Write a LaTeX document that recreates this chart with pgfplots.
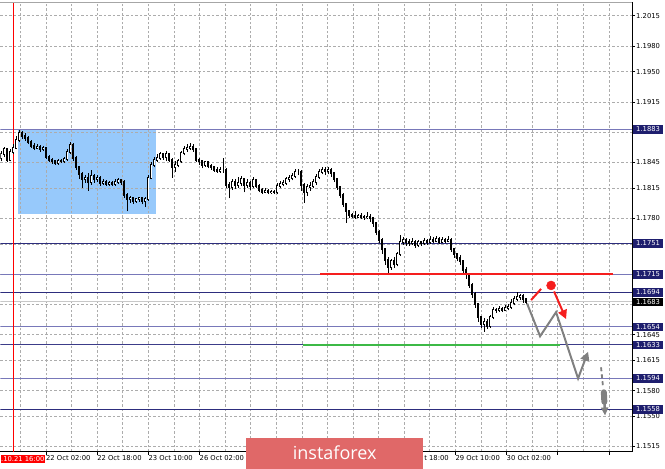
\documentclass[border=0pt]{standalone}
\usepackage{pgfplots}
\pgfplotsset{compat=1.18}
\usepackage{pgfplotstable}
\usepackage{fontspec}
\setmainfont{DejaVu Sans}
\newfontfamily\wmfont{Open Sans}
\usetikzlibrary{arrows.meta}
\definecolor{gridc}{RGB}{172,172,172}
\definecolor{boxnavy}{RGB}{30,30,110}
\definecolor{lvlnavy}{RGB}{45,45,125}
\definecolor{lvlslate}{RGB}{120,120,185}
\definecolor{rectblue}{RGB}{151,201,251}
\definecolor{greenl}{RGB}{60,185,70}
\definecolor{redl}{RGB}{245,30,30}
\definecolor{arrgray}{RGB}{128,128,128}
\definecolor{wm}{RGB}{224,104,104}
\definecolor{curgray}{RGB}{200,200,200}

\pgfplotstableread{
x o h l c
1 1.1850 1.1858 1.1846 1.1854
4 1.1854 1.1863 1.1851 1.1860
7 1.1860 1.1862 1.1845 1.1848
10 1.1848 1.1860 1.1846 1.1857
13 1.1857 1.1866 1.1855 1.1862
16 1.1862 1.1875 1.1860 1.1871
19 1.1871 1.1882 1.1869 1.1879
22 1.1879 1.1881 1.1872 1.1876
25 1.1876 1.1879 1.1870 1.1873
28 1.1873 1.1875 1.1866 1.1869
31 1.1869 1.1871 1.1862 1.1864
34 1.1864 1.1867 1.1859 1.1862
37 1.1862 1.1866 1.1860 1.1863
40 1.1863 1.1865 1.1857 1.1860
43 1.1860 1.1864 1.1858 1.1861
46 1.1861 1.1863 1.1849 1.1851
49 1.1851 1.1853 1.1845 1.1848
52 1.1848 1.1850 1.1843 1.1846
55 1.1846 1.1848 1.1842 1.1844
58 1.1844 1.1849 1.1842 1.1847
61 1.1847 1.1849 1.1844 1.1846
64 1.1846 1.1851 1.1844 1.1849
67 1.1849 1.1860 1.1847 1.1857
70 1.1857 1.1868 1.1855 1.1865
73 1.1865 1.1867 1.1847 1.1850
76 1.1850 1.1852 1.1836 1.1839
79 1.1839 1.1841 1.1826 1.1831
82 1.1831 1.1834 1.1815 1.1825
85 1.1825 1.1830 1.1821 1.1827
88 1.1827 1.1833 1.1812 1.1822
91 1.1822 1.1836 1.1819 1.1829
94 1.1829 1.1831 1.1821 1.1825
97 1.1825 1.1830 1.1822 1.1827
100 1.1827 1.1829 1.1818 1.1821
103 1.1821 1.1825 1.1819 1.1822
106 1.1822 1.1824 1.1818 1.1820
109 1.1820 1.1823 1.1818 1.1821
112 1.1821 1.1823 1.1818 1.1820
115 1.1820 1.1825 1.1818 1.1822
118 1.1822 1.1827 1.1820 1.1824
121 1.1824 1.1826 1.1819 1.1822
124 1.1822 1.1824 1.1803 1.1807
127 1.1807 1.1809 1.1788 1.1802
130 1.1802 1.1806 1.1798 1.1803
133 1.1803 1.1805 1.1797 1.1800
136 1.1800 1.1804 1.1798 1.1802
139 1.1802 1.1805 1.1799 1.1803
142 1.1803 1.1805 1.1796 1.1800
145 1.1800 1.1805 1.1793 1.1802
148 1.1802 1.1830 1.1800 1.1827
151 1.1827 1.1845 1.1825 1.1842
154 1.1842 1.1851 1.1839 1.1848
157 1.1848 1.1854 1.1845 1.1850
160 1.1850 1.1857 1.1848 1.1854
163 1.1854 1.1856 1.1848 1.1851
166 1.1851 1.1858 1.1846 1.1854
169 1.1854 1.1856 1.1845 1.1848
172 1.1848 1.1850 1.1827 1.1839
175 1.1839 1.1846 1.1834 1.1842
178 1.1842 1.1849 1.1839 1.1846
181 1.1846 1.1858 1.1844 1.1856
184 1.1856 1.1864 1.1853 1.1860
187 1.1860 1.1866 1.1857 1.1862
190 1.1862 1.1867 1.1859 1.1863
193 1.1863 1.1866 1.1857 1.1860
196 1.1860 1.1862 1.1845 1.1848
199 1.1848 1.1850 1.1842 1.1846
202 1.1846 1.1848 1.1838 1.1842
205 1.1842 1.1847 1.1840 1.1845
208 1.1845 1.1847 1.1838 1.1841
211 1.1841 1.1843 1.1836 1.1839
214 1.1839 1.1841 1.1834 1.1836
217 1.1836 1.1839 1.1833 1.1835
220 1.1835 1.1839 1.1833 1.1836
223 1.1836 1.1850 1.1833 1.1836
226 1.1836 1.1838 1.1815 1.1819
229 1.1819 1.1822 1.1803 1.1816
232 1.1816 1.1825 1.1813 1.1822
235 1.1822 1.1826 1.1814 1.1819
238 1.1819 1.1828 1.1815 1.1821
241 1.1821 1.1829 1.1818 1.1825
244 1.1825 1.1827 1.1810 1.1819
247 1.1819 1.1826 1.1815 1.1821
250 1.1821 1.1823 1.1813 1.1817
253 1.1817 1.1828 1.1815 1.1824
256 1.1824 1.1826 1.1815 1.1818
259 1.1818 1.1820 1.1810 1.1813
262 1.1813 1.1815 1.1808 1.1811
265 1.1811 1.1815 1.1809 1.1812
268 1.1812 1.1814 1.1808 1.1810
271 1.1810 1.1813 1.1808 1.1811
274 1.1811 1.1813 1.1808 1.1810
277 1.1810 1.1821 1.1808 1.1818
280 1.1818 1.1823 1.1815 1.1820
283 1.1820 1.1824 1.1817 1.1821
286 1.1821 1.1828 1.1819 1.1825
289 1.1825 1.1830 1.1822 1.1827
292 1.1827 1.1833 1.1824 1.1829
295 1.1829 1.1837 1.1827 1.1834
298 1.1834 1.1837 1.1830 1.1834
301 1.1834 1.1836 1.1812 1.1819
304 1.1819 1.1821 1.1798 1.1811
307 1.1811 1.1820 1.1806 1.1816
310 1.1816 1.1822 1.1812 1.1818
313 1.1818 1.1826 1.1815 1.1822
316 1.1822 1.1831 1.1819 1.1828
319 1.1828 1.1837 1.1826 1.1834
322 1.1834 1.1840 1.1831 1.1836
325 1.1836 1.1839 1.1830 1.1835
328 1.1835 1.1839 1.1831 1.1836
331 1.1836 1.1838 1.1828 1.1832
334 1.1832 1.1834 1.1822 1.1825
337 1.1825 1.1827 1.1813 1.1816
340 1.1816 1.1818 1.1804 1.1807
343 1.1807 1.1809 1.1793 1.1796
346 1.1796 1.1798 1.1775 1.1788
349 1.1788 1.1790 1.1780 1.1784
352 1.1784 1.1786 1.1780 1.1783
355 1.1783 1.1788 1.1779 1.1782
358 1.1782 1.1785 1.1780 1.1783
361 1.1783 1.1786 1.1779 1.1782
364 1.1782 1.1784 1.1778 1.1781
367 1.1781 1.1787 1.1779 1.1782
370 1.1782 1.1785 1.1776 1.1780
373 1.1780 1.1782 1.1770 1.1774
376 1.1774 1.1776 1.1760 1.1764
379 1.1764 1.1766 1.1751 1.1755
382 1.1755 1.1757 1.1739 1.1744
385 1.1744 1.1746 1.1726 1.1732
388 1.1732 1.1735 1.1717 1.1723
391 1.1723 1.1733 1.1720 1.1730
394 1.1730 1.1735 1.1722 1.1727
397 1.1727 1.1741 1.1724 1.1738
400 1.1738 1.1760 1.1736 1.1753
403 1.1753 1.1758 1.1749 1.1755
406 1.1755 1.1757 1.1748 1.1752
409 1.1752 1.1756 1.1748 1.1751
412 1.1751 1.1757 1.1749 1.1753
415 1.1753 1.1755 1.1746 1.1749
418 1.1749 1.1755 1.1747 1.1752
421 1.1752 1.1754 1.1748 1.1751
424 1.1751 1.1757 1.1749 1.1754
427 1.1754 1.1756 1.1749 1.1752
430 1.1752 1.1759 1.1750 1.1755
433 1.1755 1.1758 1.1751 1.1754
436 1.1754 1.1759 1.1752 1.1756
439 1.1756 1.1758 1.1750 1.1753
442 1.1753 1.1758 1.1751 1.1755
445 1.1755 1.1757 1.1751 1.1754
448 1.1754 1.1759 1.1752 1.1755
451 1.1755 1.1757 1.1741 1.1744
454 1.1744 1.1746 1.1734 1.1738
457 1.1738 1.1740 1.1730 1.1734
460 1.1734 1.1737 1.1726 1.1730
463 1.1730 1.1732 1.1716 1.1720
466 1.1720 1.1723 1.1710 1.1715
469 1.1715 1.1717 1.1699 1.1703
472 1.1703 1.1705 1.1688 1.1692
475 1.1692 1.1694 1.1676 1.1680
478 1.1680 1.1682 1.1660 1.1665
481 1.1665 1.1667 1.1653 1.1657
484 1.1657 1.1664 1.1648 1.1660
487 1.1660 1.1663 1.1652 1.1655
490 1.1655 1.1668 1.1653 1.1665
493 1.1665 1.1677 1.1663 1.1674
496 1.1674 1.1676 1.1670 1.1673
499 1.1673 1.1678 1.1671 1.1675
502 1.1675 1.1677 1.1671 1.1674
505 1.1674 1.1679 1.1672 1.1676
508 1.1676 1.1681 1.1673 1.1677
511 1.1677 1.1686 1.1675 1.1682
514 1.1682 1.1690 1.1679 1.1686
517 1.1686 1.1694 1.1684 1.1689
520 1.1689 1.1692 1.1685 1.1690
523 1.1690 1.1692 1.1682 1.1686
526 1.1686 1.1688 1.1680 1.1683
}\candles

\tikzset{lvlbox/.style={fill=boxnavy, text=white, anchor=west, xshift=1pt,
  inner xsep=3pt, inner ysep=0pt, minimum height=8.6pt,
  font=\fontsize{6.8}{8}\selectfont}}

\begin{document}
\begin{tikzpicture}
\path (0,0) rectangle (665pt,469pt);
\begin{axis}[
  at={(0pt,17pt)}, anchor=south west,
  width=632pt, height=450pt, scale only axis,
  xmin=0, xmax=632, ymin=1.1509, ymax=1.2031,
  axis x line*=bottom, axis y line*=right,
  axis line style={black, line width=0.8pt, -},
  every outer x axis line/.append style={-},
  every outer y axis line/.append style={-},
  tick align=outside, major tick length=3pt, minor tick length=0pt,
  tick style={black, line width=0.6pt},
  xtick={45.6,96.8,148,199.2,250.4,301.6,352.8,404,455.2,506.4,557.6,608.8},
  xticklabels={22 Oct 02:00,22 Oct 18:00,23 Oct 10:00,26 Oct 02:00,{},{},{},{},29 Oct 10:00,30 Oct 02:00,{},{}},
  minor xtick={20,71.2,122.4,173.6,224.8,276,327.2,378.4,429.6,480.8,532,583.2},
  ytick={1.1515,1.1550,1.1580,1.1615,1.1645,1.1680,1.1715,1.1750,1.1780,1.1815,1.1845,1.1880,1.1915,1.1950,1.1980,1.2015},
  yticklabels={1.1515,1.1550,1.1580,1.1615,1.1645,{},{},{},1.1780,1.1815,1.1845,{},1.1915,1.1950,1.1980,1.2015},
  xmajorgrids=true, xminorgrids=true, ymajorgrids=true,
  major grid style={draw=gridc, dash pattern=on 2.5pt off 2pt, line width=0.6pt},
  minor grid style={draw=gridc, dash pattern=on 2.5pt off 2pt, line width=0.6pt},
  every tick label/.append style={font=\fontsize{6.8}{8}\selectfont},
  xticklabel style={anchor=north west, inner sep=0pt, yshift=-1pt, xshift=0pt},
  yticklabel style={anchor=west, inner sep=0pt, xshift=1pt},
  clip mode=individual,
  set layers=standard,
]
% highlighted rectangle
\addplot[on layer=axis background, fill=rectblue, draw=none]
  coordinates {(18,1.1884) (156,1.1884) (156,1.1785) (18,1.1785)} -- cycle;
% current price line
\addplot[curgray, line width=0.8pt] coordinates {(0,1.1683) (632,1.1683)};
% level lines
\addplot[lvlslate, line width=0.9pt] coordinates {(0,1.1883) (632,1.1883)};
\addplot[lvlnavy, line width=0.9pt] coordinates {(0,1.1751) (632,1.1751)};
\addplot[lvlslate, line width=0.9pt] coordinates {(0,1.1715) (632,1.1715)};
\addplot[lvlnavy, line width=0.9pt] coordinates {(0,1.1694) (632,1.1694)};
\addplot[lvlslate, line width=0.9pt] coordinates {(0,1.1654) (632,1.1654)};
\addplot[lvlnavy!80!lvlslate, line width=0.9pt] coordinates {(0,1.1633) (632,1.1633)};
\addplot[lvlslate, line width=1.2pt] coordinates {(0,1.1594) (632,1.1594)};
\addplot[lvlnavy, line width=0.9pt] coordinates {(0,1.1558) (632,1.1558)};
% red vertical line
\addplot[red, line width=0.8pt] coordinates {(13,1.1509) (13,1.2031)};
% wicks
\addplot[draw=none, mark=none, error bars/.cd, y dir=plus, y explicit, error mark=none,
  error bar style={draw=black, line width=0.6pt}]
  table[x=x, y=l, y error plus expr=\thisrow{h}-\thisrow{l}] {\candles};
% bearish bodies
\addplot[draw=none, mark=none, restrict expr to domain={\thisrow{o}-\thisrow{c}}{0:1},
  error bars/.cd, y dir=plus, y explicit, error mark=none,
  error bar style={draw=black, line width=2pt, line cap=rect}]
  table[x=x, y=c, y error plus expr=\thisrow{o}-\thisrow{c}] {\candles};
% bullish bodies
\addplot[draw=none, mark=none, restrict expr to domain={\thisrow{c}-\thisrow{o}}{0.00001:1},
  error bars/.cd, y dir=plus, y explicit, error mark=none,
  error bar style={draw=black, line width=2pt, line cap=rect}]
  table[x=x, y=o, y error plus expr=\thisrow{c}-\thisrow{o}] {\candles};
\addplot[draw=none, mark=none, restrict expr to domain={\thisrow{c}-\thisrow{o}}{0.00001:1},
  error bars/.cd, y dir=plus, y explicit, error mark=none,
  error bar style={draw=white, line width=0.6pt, line cap=butt}]
  table[x=x, y=o, y error plus expr=\thisrow{c}-\thisrow{o}] {\candles};
% red and green lines
\addplot[redl, line width=2pt] coordinates {(320,1.1715) (613,1.1715)};
\addplot[greenl, line width=2pt] coordinates {(303,1.1633) (560,1.1633)};
% gray forecast path
\addplot[arrgray, line width=2pt, line join=miter, -{Triangle[length=9pt,width=9pt]}]
  coordinates {(527,1.1681) (540,1.1643) (556,1.1671) (578,1.1594) (588,1.1625)};
\addplot[arrgray, line width=1.8pt, dash pattern=on 4pt off 3pt]
  coordinates {(601,1.1607) (603,1.1584)};
\addplot[arrgray, line width=6pt, line cap=round]
  coordinates {(603.8,1.1578) (604.3,1.1567)};
\addplot[arrgray, line width=2.5pt, -{Triangle[length=8pt,width=7pt]}]
  coordinates {(604.4,1.1566) (605,1.1551)};
% red forecast
\addplot[redl, line width=2pt] coordinates {(531,1.1685) (541,1.1698)};
\addplot[redl, only marks, mark=*, mark size=4.5pt] coordinates {(551,1.1702)};
\addplot[redl, line width=2pt, -{Triangle[length=9pt,width=9pt]}]
  coordinates {(554,1.1695) (566,1.1663)};
% top border
\draw[gray!70, line width=0.8pt] (rel axis cs:0,1) -- (rel axis cs:1,1);
% level labels
\node[lvlbox] at (axis cs:632,1.1883) {1.1883};
\node[lvlbox] at (axis cs:632,1.1751) {1.1751};
\node[lvlbox] at (axis cs:632,1.1715) {1.1715};
\node[lvlbox] at (axis cs:632,1.1694) {1.1694};
\node[lvlbox, fill=black] at (axis cs:632,1.1683) {1.1683};
\node[lvlbox] at (axis cs:632,1.1654) {1.1654};
\node[lvlbox] at (axis cs:632,1.1633) {1.1633};
\node[lvlbox] at (axis cs:632,1.1594) {1.1594};
\node[lvlbox] at (axis cs:632,1.1558) {1.1558};
\end{axis}
% date label of vertical line
\node[fill=red, text=white, anchor=west, inner xsep=0.5pt, inner ysep=1.5pt,
  font=\fontsize{6.8}{8}\selectfont] at (0pt,9.5pt) {.10.21 16:00};
% watermark
\fill[wm] (246pt,0pt) rectangle (423pt,31pt);
\node[text=white, font=\wmfont\fontsize{18}{20}\selectfont] at (334.5pt,16pt) {instaforex};
% visible tail of the hidden 28 Oct 18:00 label
\node[anchor=north west, inner sep=0pt, font=\fontsize{6.8}{8}\selectfont] at (424pt,13pt) {t 18:00};
\end{tikzpicture}
\end{document}
